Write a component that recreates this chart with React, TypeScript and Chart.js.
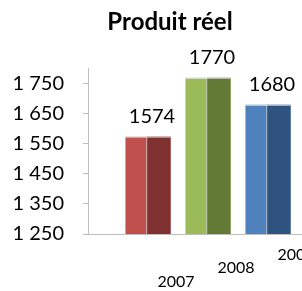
import React, { useEffect, useRef } from 'react';
import { Chart, registerables } from 'chart.js';

Chart.register(...registerables);

const titleText = 'Produit réel';
const categories = ['2007', '2008', '2009'];
const values = [1574, 1770, 1680];
const yTicks = [1250, 1350, 1450, 1550, 1650, 1750];
const frontColors = ['#C0504D', '#9BBB59', '#4F81BD'];
const sideColors = ['#7E3130', '#637A37', '#30527F'];

const fmt = (v: number | string) =>
  String(v).replace(/\B(?=(\d{3})+(?!\d))/g, ' ');

const bar3d = {
  id: 'bar3d',
  afterDatasetsDraw(chart: any) {
    const ctx = chart.ctx;
    const area = chart.chartArea;
    const meta = chart.getDatasetMeta(0);
    meta.data.forEach((el: any, i: number) => {
      const { x, y, base, width } = el.getProps(['x', 'y', 'base', 'width'], true);
      const bottom = Math.min(base, area.bottom);
      const left = x - width / 2;
      const right = x + width / 2;
      const split = left + width * 0.46;
      ctx.save();
      ctx.fillStyle = sideColors[i];
      ctx.fillRect(split, y, right - split, bottom - y);
      ctx.strokeStyle = 'rgba(255,255,255,0.65)';
      ctx.lineWidth = 1;
      ctx.beginPath();
      ctx.moveTo(split + 0.5, y);
      ctx.lineTo(split + 0.5, bottom);
      ctx.moveTo(left, y + 0.5);
      ctx.lineTo(right, y + 0.5);
      ctx.stroke();
      ctx.restore();

      ctx.save();
      ctx.font = '20px Lato';
      ctx.fillStyle = '#000';
      ctx.textAlign = 'center';
      ctx.textBaseline = 'middle';
      ctx.fillText(String(values[i]), x + 4, y - 20);
      ctx.restore();
    });
  },
};

export default function App() {
  const ref = useRef<HTMLCanvasElement | null>(null);

  useEffect(() => {
    let chart: any = null;
    let cancelled = false;
    const fonts: any = (document as any).fonts;
    const ready = fonts
      ? Promise.all([
          fonts.load('20px Lato'),
          fonts.load('bold 24px Lato'),
          fonts.load('16px Lato'),
        ]).catch(() => null)
      : Promise.resolve(null);
    ready.then(() => {
      if (cancelled || !ref.current) return;
      chart = new Chart(ref.current, {
        type: 'bar',
        data: {
          datasets: [
            {
              data: values.map((v, i) => ({ x: i, y: v })),
              backgroundColor: frontColors,
              borderWidth: 0,
              barPercentage: 0.94,
              categoryPercentage: 0.8,
            },
          ],
        },
        options: {
          animation: false,
          responsive: false,
          layout: { padding: { left: 12, right: 14, top: 0, bottom: 3 } },
          plugins: {
            legend: { display: false },
            tooltip: { enabled: false },
            title: {
              display: true,
              text: titleText,
              color: '#000',
              font: { family: 'Lato', size: 24, weight: 'bold', lineHeight: 1.2 },
              padding: { top: 8, bottom: 32 },
            },
          },
          scales: {
            x: {
              type: 'linear',
              min: -1,
              max: 3,
              offset: false,
              afterBuildTicks: (axis: any) => {
                axis.ticks = categories.map((_, i) => ({ value: i }));
              },
              afterFit: (axis: any) => {
                axis.height = 54;
              },
              ticks: {
                autoSkip: false,
                maxRotation: 0,
                labelOffset: 28,
                padding: 14,
                color: '#000',
                font: { family: 'Lato', size: 16, lineHeight: 0.84 },
                callback: (v: any) => {
                  const i = Math.round(Number(v));
                  const blanks = categories.length - 1 - i;
                  return [...Array(blanks).fill(''), categories[i]];
                },
              },
              grid: { display: false, drawTicks: false },
              border: { display: true, color: '#BFBFBF' },
            },
            y: {
              min: 1250,
              max: 1800,
              afterBuildTicks: (axis: any) => {
                axis.ticks = yTicks.map((v) => ({ value: v }));
              },
              afterFit: (axis: any) => {
                axis.width = 76;
              },
              ticks: {
                padding: 19,
                color: '#000',
                font: { family: 'Lato', size: 20 },
                callback: (v: any) => fmt(v),
              },
              grid: { drawOnChartArea: false, drawTicks: true, tickLength: 5, color: '#BFBFBF' },
              border: { display: true, color: '#BFBFBF' },
            },
          },
        },
        plugins: [bar3d],
      } as any);
    });
    return () => {
      cancelled = true;
      if (chart) chart.destroy();
    };
  }, []);

  return (
    <div
      style={{
        position: 'fixed',
        left: 0,
        top: 0,
        width: 302,
        height: 291,
        overflow: 'hidden',
        background: '#fff',
      }}
    >
      <canvas ref={ref} width={342} height={291} style={{ display: 'block' }} />
    </div>
  );
}
